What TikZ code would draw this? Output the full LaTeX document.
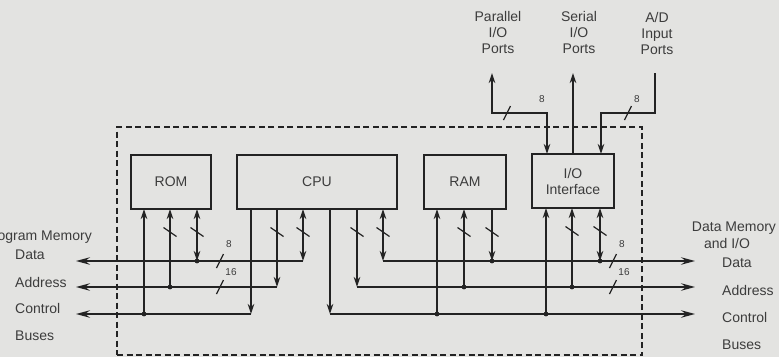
\documentclass[tikz,border=0pt]{standalone}
\usepackage{fontspec}
\setmainfont{Liberation Sans}
\usetikzlibrary{arrows.meta}
\definecolor{bg}{RGB}{227,227,225}
\definecolor{ink}{RGB}{35,35,35}
\definecolor{txt}{RGB}{60,60,60}
\tikzset{
  box/.style={draw=ink, line width=1.3pt, fill=bg, minimum height=54pt, inner sep=0pt, outer sep=0pt,
    font=\fontsize{14}{16}\selectfont, text=txt, align=center},
  wire/.style={draw=ink, line width=1.3pt},
  arrEnd/.style={-{Stealth[length=10pt,width=6.5pt,inset=3pt]}},
  arrBoth/.style={{Stealth[length=10pt,width=6.5pt,inset=3pt]}-{Stealth[length=10pt,width=6.5pt,inset=3pt]}},
  arrBus/.style={-{Stealth[length=14pt,width=7.5pt,inset=5pt]}},
  slash/.style={draw=ink, line width=1.2pt},
  lbl/.style={font=\fontsize{14}{16}\selectfont, text=txt, inner sep=0pt, align=center},
  num/.style={font=\fontsize{10}{12}\selectfont, text=txt, inner sep=0pt},
  frame/.style={draw=ink, dash pattern=on 6pt off 3.5pt, line width=1.3pt, inner sep=0pt, outer sep=0pt}
}
\begin{document}
\begin{tikzpicture}[x=1pt,y=-1pt]
\fill[bg] (0,0) rectangle (779,357);
\useasboundingbox (0,0) rectangle (779,357);

% dashed frame
\node[frame, minimum width=525pt, minimum height=228pt] (frame) at (379.5,241) {};

% boxes
\node[box, minimum width=80pt] (rom) at (171,182) {ROM};
\node[box, minimum width=160pt] (cpu) at (317,182) {CPU};
\node[box, minimum width=82pt] (ram) at (465,182) {RAM};
\node[box, minimum width=82pt] (io) at (573,181) {I/O\\Interface};

% bus ends
\coordinate (dataL) at (76,261);
\coordinate (addrL) at (76,287);
\coordinate (ctrlL) at (76,314);
\coordinate (dataR) at (695,261);
\coordinate (addrR) at (695,287);
\coordinate (ctrlR) at (695,314);

% taps
\coordinate (r1) at ([xshift=13pt]rom.south west);
\coordinate (r2) at ([xshift=39pt]rom.south west);
\coordinate (r3) at ([xshift=66pt]rom.south west);
\coordinate (c1) at ([xshift=14pt]cpu.south west);
\coordinate (c2) at ([xshift=40pt]cpu.south west);
\coordinate (c3) at ([xshift=66pt]cpu.south west);
\coordinate (c4) at ([xshift=93pt]cpu.south west);
\coordinate (c5) at ([xshift=120pt]cpu.south west);
\coordinate (c6) at ([xshift=146pt]cpu.south west);
\coordinate (m1) at ([xshift=13pt]ram.south west);
\coordinate (m2) at ([xshift=40pt]ram.south west);
\coordinate (m3) at ([xshift=68pt]ram.south west);
\coordinate (i1) at ([xshift=14pt]io.south west);
\coordinate (i2) at ([xshift=40pt]io.south west);
\coordinate (i3) at ([xshift=68pt]io.south west);
\coordinate (t1) at ([xshift=15pt]io.north west);
\coordinate (t2) at ([xshift=41pt]io.north west);
\coordinate (t3) at ([xshift=69pt]io.north west);

% CPU and buses
\draw[wire, arrEnd] (c1) -- (c1 |- ctrlL);
\draw[wire, arrBus] (c1 |- ctrlL) -- (ctrlL);
\draw[wire, arrEnd] (c2) -- (c2 |- addrL);
\draw[wire, arrBus] (c2 |- addrL) -- (addrL);
\draw[wire, arrBoth] (c3) -- (c3 |- dataL);
\draw[wire, arrBus] (c3 |- dataL) -- (dataL);
\draw[wire, arrEnd] (c4) -- (c4 |- ctrlR);
\draw[wire, arrBus] (c4 |- ctrlR) -- (ctrlR);
\draw[wire, arrEnd] (c5) -- (c5 |- addrR);
\draw[wire, arrBus] (c5 |- addrR) -- (addrR);
\draw[wire, arrBoth] (c6) -- (c6 |- dataR);
\draw[wire, arrBus] (c6 |- dataR) -- (dataR);

% ROM
\draw[wire, arrEnd] (r1 |- ctrlL) -- (r1);
\draw[wire, arrEnd] (r2 |- addrL) -- (r2);
\draw[wire, arrBoth] (r3 |- dataL) -- (r3);
% RAM
\draw[wire, arrEnd] (m1 |- ctrlR) -- (m1);
\draw[wire, arrEnd] (m2 |- addrR) -- (m2);
\draw[wire, arrEnd] (m3) -- (m3 |- dataR);
% I/O
\draw[wire, arrEnd] (i1 |- ctrlR) -- (i1);
\draw[wire, arrEnd] (i2 |- addrR) -- (i2);
\draw[wire, arrBoth] (i3 |- dataR) -- (i3);

% junction dots
\foreach \p/\b in {r1/ctrlL, r2/addrL, r3/dataL, m1/ctrlR, m2/addrR, m3/dataR, i1/ctrlR, i2/addrR, i3/dataR}
  \fill[ink] (\p |- \b) circle (2.4pt);

% slashes on vertical wires
\foreach \p in {r2, r3, c2, c3, c5, c6, m2, m3, i2, i3}
  \draw[slash] ([shift={(-6.5,18.5)}]\p) -- ++(13,9);

% slashes on buses
\draw[slash] (216.5,268) -- ++(7,-14);
\draw[slash] (216.5,294) -- ++(7,-14);
\draw[slash] (609.5,268) -- ++(7,-14);
\draw[slash] (609.5,294) -- ++(7,-14);
\node[num] (n8l) at (229,244) {8};
\node[num] (n16l) at (231,272) {16};
\node[num] (n8r) at (622,244) {8};
\node[num] (n16r) at (624,272) {16};

% top ports
\node[lbl] (par) at (498,32) {Parallel\\I/O\\Ports};
\node[lbl] (ser) at (579,32) {Serial\\I/O\\Ports};
\node[lbl] (adp) at (657,33) {A/D\\Input\\Ports};
\coordinate (parT) at (492,73);
\coordinate (parK) at (492,113);
\coordinate (adT) at (655,73);
\coordinate (adK) at (655,113);
\draw[wire, arrBoth] (parT) -- (parK) -| (t1);
\draw[wire, arrEnd] (t2) -- (t2 |- parT);
\draw[wire, arrEnd] (adT) -- (adK) -| (t3);
\draw[slash] (503.5,120) -- ++(7,-14);
\draw[slash] (624.5,120) -- ++(7,-14);
\node[num] (n8p) at (542,99) {8};
\node[num] (n8a) at (637,99) {8};

% side labels
\node[lbl, anchor=base east] (pm) at (92,240) {Program Memory};
\node[lbl, anchor=west] (ldata) at (15,255) {Data};
\node[lbl, anchor=west] (laddr) at (15,282) {Address};
\node[lbl, anchor=west] (lctrl) at (15,308) {Control};
\node[lbl, anchor=west] (lbus) at (15,336) {Buses};
\node[lbl] (dm) at (734,228) {Data Memory};
\node[lbl] (dio) at (727,243) {and I/O};
\node[lbl, anchor=west] (rdata) at (722,263) {Data};
\node[lbl, anchor=west] (raddr) at (722,290) {Address};
\node[lbl, anchor=west] (rctrl) at (722,317) {Control};
\node[lbl, anchor=west] (rbus) at (722,345) {Buses};
\end{tikzpicture}
\end{document}
